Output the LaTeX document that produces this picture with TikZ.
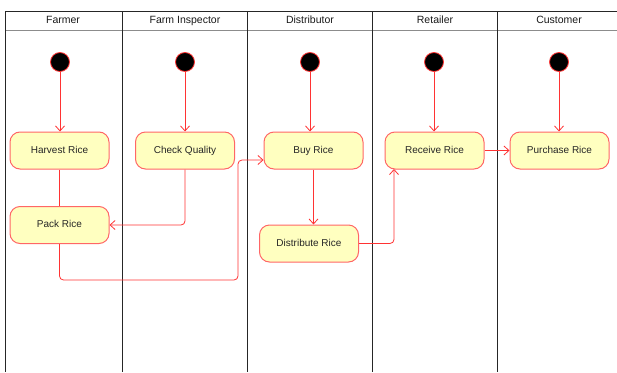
\documentclass[tikz,border=0pt]{standalone}
\usepackage{fontspec}
\setmainfont{Liberation Sans}
\usetikzlibrary{arrows.meta}
\definecolor{boxfill}{HTML}{FFFFC0}
\definecolor{boxdraw}{HTML}{FF6666}
\definecolor{flow}{HTML}{FF3333}
\begin{document}
\begin{tikzpicture}[x=1pt,y=-1pt,
 act/.style={draw=boxdraw, fill=boxfill, line width=1pt, rounded corners=10pt, minimum width=99pt, minimum height=37pt, font=\fontsize{10}{12}\selectfont, text=black!85, inner sep=0pt, text height=7.5pt, text depth=2pt},
 init/.style={circle, draw=flow, fill=black, minimum size=19pt, inner sep=0pt, line width=0.8pt},
 flowline/.style={draw=flow, line width=0.8pt, rounded corners=4pt},
 arr/.style={flowline, -{Straight Barb[length=5pt,width=9pt]}},
 lane/.style={draw=black!85, line width=0.8pt},
 headline/.style={draw=black!45, line width=1pt},
 head/.style={font=\fontsize{10.5}{12}\selectfont, text=black!90, inner sep=0pt, text height=7.5pt, text depth=2pt}
]
\useasboundingbox (0,0) rectangle (617,372);
% swimlanes
\draw[headline] (5,30) -- (617,30);
\draw[lane] (5,11) -- (617,11);
\foreach \x in {5,122,247,372,497} \draw[lane] (\x,11) -- (\x,372);
\node[head] (hfarmer) at (63,20.5) {Farmer};
\node[head] (hinspector) at (185,20.5) {Farm Inspector};
\node[head] (hdistributor) at (310,20.5) {Distributor};
\node[head] (hretailer) at (435,20.5) {Retailer};
\node[head] (hcustomer) at (559,20.5) {Customer};
% initial nodes
\node[init] (i1) at (60,62) {};
\node[init] (i2) at (185,62) {};
\node[init] (i3) at (310,62) {};
\node[init] (i4) at (434,62) {};
\node[init] (i5) at (559,62) {};
% activities
\node[act] (harvest) at (59.5,150.5) {Harvest Rice};
\node[act] (check) at (185,150.5) {Check Quality};
\node[act] (buy) at (313.5,150.5) {Buy Rice};
\node[act] (receive) at (434.5,150.5) {Receive Rice};
\node[act] (purchase) at (559.5,150.5) {Purchase Rice};
\node[act] (pack) at (59.5,225) {Pack Rice};
\node[act] (dist) at (309,243.5) {Distribute Rice};
% flows
\draw[arr] (i1) -- (i1 |- harvest.north);
\draw[arr] (i2) -- (i2 |- check.north);
\draw[arr] (i3) -- (i3 |- buy.north);
\draw[arr] (i4) -- (i4 |- receive.north);
\draw[arr] (i5) -- (i5 |- purchase.north);
\draw[flowline] (harvest) -- (pack);
\draw[arr] (check.south) |- (pack.east);
\coordinate (bend1) at (238,280);
\coordinate (buyin) at (263.5,160);
\draw[arr] (pack.south) |- (bend1) |- (buyin);
\draw[arr] (buy.south) -- (buy.south |- dist.north);
\coordinate (recin) at (394,169);
\draw[arr] (dist.east) -| (recin);
\draw[arr] (receive.east) -- (purchase.west);
\end{tikzpicture}
\end{document}
